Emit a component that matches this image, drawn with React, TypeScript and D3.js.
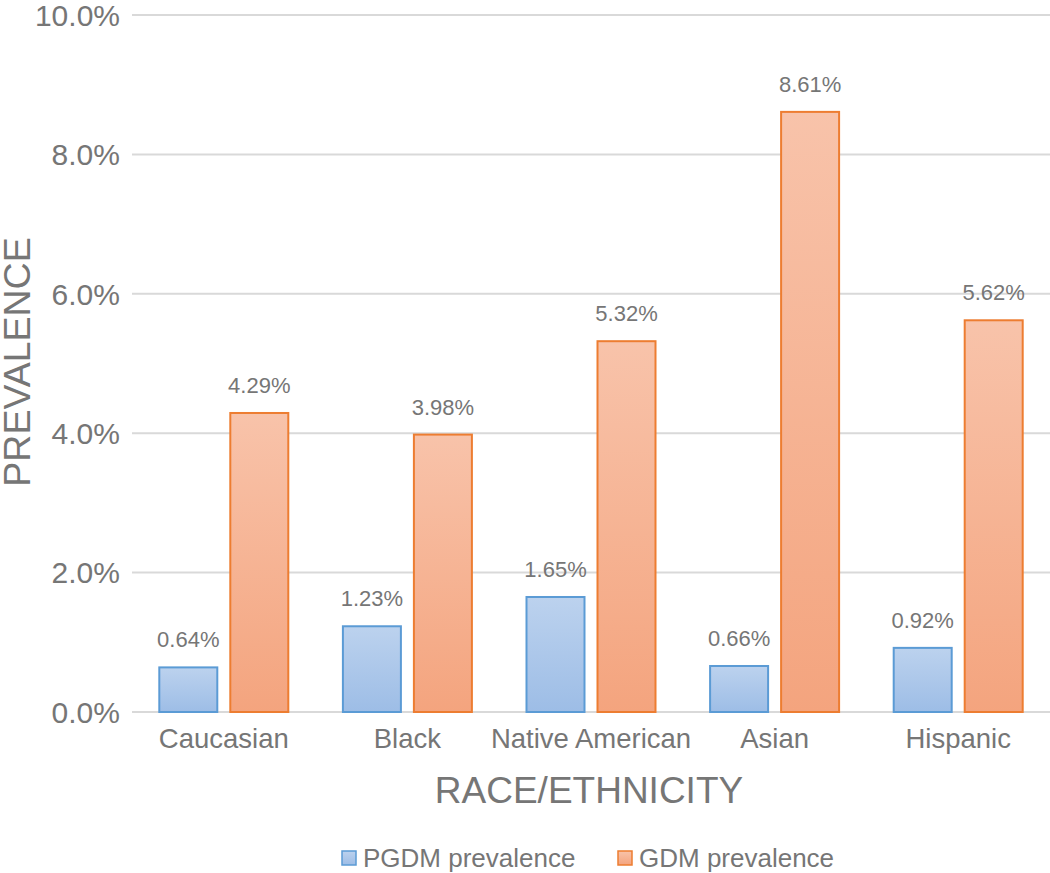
import React from "react";
import * as d3 from "d3";

const categories = ["Caucasian", "Black", "Native American", "Asian", "Hispanic"];
const pgdm = [0.64, 1.23, 1.65, 0.66, 0.92];
const gdm = [4.29, 3.98, 5.32, 8.61, 5.62];
const yTicks = [0, 2, 4, 6, 8, 10];
const seriesNames = ["PGDM prevalence", "GDM prevalence"];

const W = 1050, H = 873;
const left = 132, right = 1050, top = 15, bottom = 712;
const font = "'Liberation Sans', Arial, Helvetica, sans-serif";
const grey = "#767676";

export default function App() {
  const x = d3.scaleBand<string>().domain(categories).range([left, right]).paddingInner(0).paddingOuter(0);
  const y = d3.scaleLinear().domain([0, 10]).range([bottom, top]);
  const bw = 58, gap = 13;
  const series = [
    { name: seriesNames[0], values: pgdm, fill: "url(#gBlue)", stroke: "#5b9bd5" },
    { name: seriesNames[1], values: gdm, fill: "url(#gOrange)", stroke: "#ed7d31" },
  ];
  return (
    <svg width={W} height={H} style={{ display: "block", position: "absolute", left: 0, top: 0 }}>
      <defs>
        <linearGradient id="gBlue" x1="0" y1="0" x2="0" y2="1">
          <stop offset="0" stopColor="#bcd2ee" />
          <stop offset="1" stopColor="#9dbde6" />
        </linearGradient>
        <linearGradient id="gOrange" x1="0" y1="0" x2="0" y2="1">
          <stop offset="0" stopColor="#f8c3aa" />
          <stop offset="1" stopColor="#f4a47e" />
        </linearGradient>
      </defs>
      <rect width={W} height={H} fill="#fff" />
      {yTicks.map((t) => (
        <g key={t}>
          <line x1={left} x2={right} y1={y(t)} y2={y(t)} stroke="#d9d9d9" strokeWidth={2} />
          <text x={120} y={y(t)} dy="0.36em" textAnchor="end" fontFamily={font} fontSize={30} fill={grey}>
            {t.toFixed(1)}%
          </text>
        </g>
      ))}
      {categories.map((c, i) => {
        const cx = x(c)! + x.bandwidth() / 2;
        return (
          <g key={c}>
            {series.map((s, j) => {
              const bx = j === 0 ? cx - gap / 2 - bw : cx + gap / 2;
              const v = s.values[i];
              return (
                <g key={s.name}>
                  <rect x={bx} y={y(v)} width={bw} height={bottom - y(v)} fill={s.fill} stroke={s.stroke} strokeWidth={2} />
                  <text x={bx + bw / 2} y={y(v) - 20} textAnchor="middle" fontFamily={font} fontSize={22} fill={grey}>
                    {v.toFixed(2)}%
                  </text>
                </g>
              );
            })}
            <text x={cx} y={748} textAnchor="middle" fontFamily={font} fontSize={27.5} fill={grey}>
              {c}
            </text>
          </g>
        );
      })}
      <text x={589} y={803} textAnchor="middle" fontFamily={font} fontSize={37} fill={grey}>
        RACE/ETHNICITY
      </text>
      <text transform={`translate(30,362) rotate(-90)`} textAnchor="middle" fontFamily={font} fontSize={37.5} fill={grey}>
        PREVALENCE
      </text>
      <g>
        <rect x={342} y={851} width={14} height={14} fill="url(#gBlue)" stroke="#5b9bd5" strokeWidth={1.5} />
        <text x={363} y={867} fontFamily={font} fontSize={26} fill={grey}>{seriesNames[0]}</text>
        <rect x={618} y={851} width={14} height={14} fill="url(#gOrange)" stroke="#ed7d31" strokeWidth={1.5} />
        <text x={639} y={867} fontFamily={font} fontSize={26} fill={grey}>{seriesNames[1]}</text>
      </g>
    </svg>
  );
}
